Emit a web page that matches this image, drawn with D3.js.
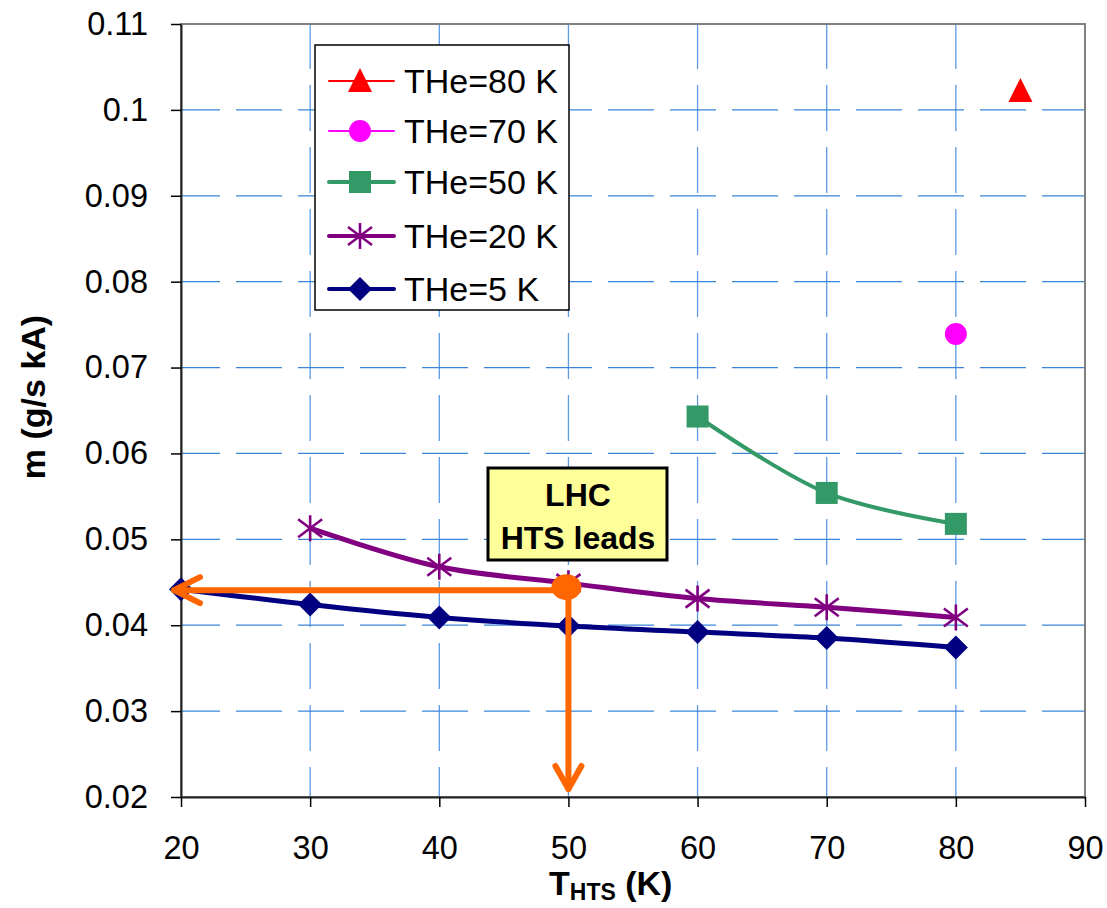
<!DOCTYPE html>
<html><head><meta charset="utf-8">
<script src="https://cdn.jsdelivr.net/npm/d3@7"></script>
<style>body{margin:0;background:#fff;} text{font-family:Arial,"Liberation Sans",sans-serif;}</style>
</head><body><svg id="c" width="1107" height="908"></svg>
<script>
const xTicks = [20,30,40,50,60,70,80,90];
const yTicks = [0.02,0.03,0.04,0.05,0.06,0.07,0.08,0.09,0.1,0.11];
const yTickLabels = ["0.02","0.03","0.04","0.05","0.06","0.07","0.08","0.09","0.1","0.11"];
const he5x = [20,30,40,50,60,70,80];
const he5y = [0.0442,0.0424,0.0409,0.0399,0.0392,0.0385,0.0374];
const he20x = [30,40,50,60,70,80];
const he20y = [0.0513,0.0468,0.0449,0.0431,0.0421,0.0409];
const he50x = [60,70,80];
const he50y = [0.0643,0.0554,0.0518];
const he70x = [80];
const he70y = [0.0739];
const he80x = [85];
const he80y = [0.1022];
const lhcPoint = [50,0.0442];
const legendLabels = ["THe=80 K","THe=70 K","THe=50 K","THe=20 K","THe=5 K"];

const svg = d3.select("#c");
const L=181,R=1085,T=24,B=797;
const x = d3.scaleLinear().domain([20,90]).range([L,R]);
const y = d3.scaleLinear().domain([0.02,0.11]).range([B,T]);

// grid
const grid = svg.append("g").attr("stroke","#3a85da").attr("stroke-width",1.3).attr("stroke-dasharray","46,16");
xTicks.slice(1,-1).forEach(v=>grid.append("line").attr("x1",x(v)).attr("x2",x(v)).attr("y1",T).attr("y2",B).attr("stroke","#5b9be3").attr("stroke-dashoffset",1));
yTicks.slice(1,-1).forEach(v=>grid.append("line").attr("x1",L).attr("x2",R).attr("y1",y(v)).attr("y2",y(v)).attr("stroke-dashoffset",7));
// border
svg.append("rect").attr("x",L).attr("y",T).attr("width",R-L).attr("height",B-T).attr("fill","none").attr("stroke","#808080").attr("stroke-width",2);

// axes
const xAxis = svg.append("g").attr("transform",`translate(0,${B})`)
  .call(d3.axisBottom(x).tickValues(xTicks).tickSize(10).tickSizeOuter(0).tickPadding(29).tickFormat(d3.format("d")));
const yAxis = svg.append("g").attr("transform",`translate(${L},0)`)
  .call(d3.axisLeft(y).tickValues(yTicks).tickSize(10).tickSizeOuter(0).tickPadding(23).tickFormat((d,i)=>yTickLabels[i]));
[xAxis,yAxis].forEach(a=>{
  a.selectAll("path").attr("stroke","#222").attr("stroke-width",2);
  a.selectAll("line").attr("stroke","#000").attr("stroke-width",1.5);
  a.selectAll("text").attr("font-size",32.5).attr("fill","#000").attr("font-family","Arial,'Liberation Sans',sans-serif");
});

// axis titles
const xt = svg.append("text").attr("x",549).attr("y",895).attr("font-size",34).attr("font-weight","bold");
xt.append("tspan").text("T");
xt.append("tspan").attr("font-size",23).attr("dy",5).text("HTS");
xt.append("tspan").attr("dy",-5).text(" (K)");
svg.append("text").attr("transform",`translate(45,397) rotate(-90)`).attr("text-anchor","middle")
  .attr("font-size",34).attr("font-weight","bold").text("m (g/s kA)");

// markers
function marker(g,m,cx,cy,col){
  if(m==="star"){
    const p = d3.path();
    p.moveTo(cx-12,cy-9);p.lineTo(cx+12,cy+9);
    p.moveTo(cx-12,cy+9);p.lineTo(cx+12,cy-9);
    p.moveTo(cx,cy-13);p.lineTo(cx,cy+13);
    g.append("path").attr("d",p.toString()).attr("stroke",col).attr("stroke-width",2.6).attr("fill","none");
  } else if(m==="dia"){
    g.append("path").attr("d",`M${cx},${cy-12}L${cx+12},${cy}L${cx},${cy+12}L${cx-12},${cy}Z`).attr("fill",col);
  } else if(m==="sq"){
    g.append("rect").attr("x",cx-11).attr("y",cy-11).attr("width",22).attr("height",22).attr("fill",col);
  } else if(m==="circ"){
    g.append("circle").attr("cx",cx).attr("cy",cy).attr("r",11).attr("fill",col);
  } else if(m==="tri"){
    g.append("path").attr("d",`M${cx},${cy-13}L${cx+12},${cy+11}L${cx-12},${cy+11}Z`).attr("fill",col);
  }
}
const series = [
  {xs:he5x,ys:he5y,col:"#000080",w:5,m:"dia"},
  {xs:he20x,ys:he20y,col:"#800080",w:5,m:"star"},
  {xs:he50x,ys:he50y,col:"#339966",w:4,m:"sq"},
  {xs:he70x,ys:he70y,col:"#ff00ff",w:2,m:"circ"},
  {xs:he80x,ys:he80y,col:"#ff0000",w:2,m:"tri"},
];
const line = d3.line().x(d=>x(d[0])).y(d=>y(d[1])).curve(d3.curveCatmullRom.alpha(0.5));
series.forEach(s=>{
  const pts = s.xs.map((v,i)=>[v,s.ys[i]]);
  if(pts.length>1) svg.append("path").attr("d",line(pts)).attr("fill","none").attr("stroke",s.col).attr("stroke-width",s.w);
  const g = svg.append("g");
  pts.forEach(p=>marker(g,s.m,x(p[0]),y(p[1]),s.col));
});

// orange annotation
const org = "#ff6600";
const px = x(lhcPoint[0]), py = y(lhcPoint[1])+1;
const oa = svg.append("g").attr("stroke",org).attr("stroke-width",6).attr("fill","none").attr("stroke-linecap","round").attr("stroke-linejoin","round");
oa.append("line").attr("x1",px).attr("x2",L-7).attr("y1",py).attr("y2",py);
oa.append("path").attr("d",`M${L+19},${py-13} L${L-7},${py} L${L+19},${py+13}`);
oa.append("line").attr("x1",px).attr("x2",px).attr("y1",py).attr("y2",B-8);
oa.append("path").attr("d",`M${px-13},${B-31} L${px},${B-8} L${px+13},${B-31}`);
svg.append("ellipse").attr("cx",px-2).attr("cy",py-3).attr("rx",15).attr("ry",13).attr("fill",org);

// LHC box
svg.append("rect").attr("x",488).attr("y",468).attr("width",179).attr("height",92).attr("fill","#ffff99").attr("stroke","#000").attr("stroke-width",3);
svg.append("text").attr("x",578).attr("y",506).attr("text-anchor","middle").attr("font-size",32).attr("font-weight","bold").text("LHC");
svg.append("text").attr("x",578).attr("y",549).attr("text-anchor","middle").attr("font-size",32).attr("font-weight","bold").text("HTS leads");

// legend
svg.append("rect").attr("x",315).attr("y",45).attr("width",254).attr("height",265).attr("fill","#fff").attr("stroke","#000").attr("stroke-width",1.5);
const legY = [81,131,182,236,289];
const legSer = [series[4],series[3],series[2],series[1],series[0]];
legSer.forEach((s,i)=>{
  const cy = legY[i];
  svg.append("line").attr("x1",329).attr("x2",394).attr("y1",cy).attr("y2",cy).attr("stroke",s.col).attr("stroke-width",s.w>2?4:2).attr("stroke-linecap","round");
  marker(svg,s.m,360,cy,s.col);
  svg.append("text").attr("x",404).attr("y",cy+12).attr("font-size",34).text(legendLabels[i]);
});
</script></body></html>
